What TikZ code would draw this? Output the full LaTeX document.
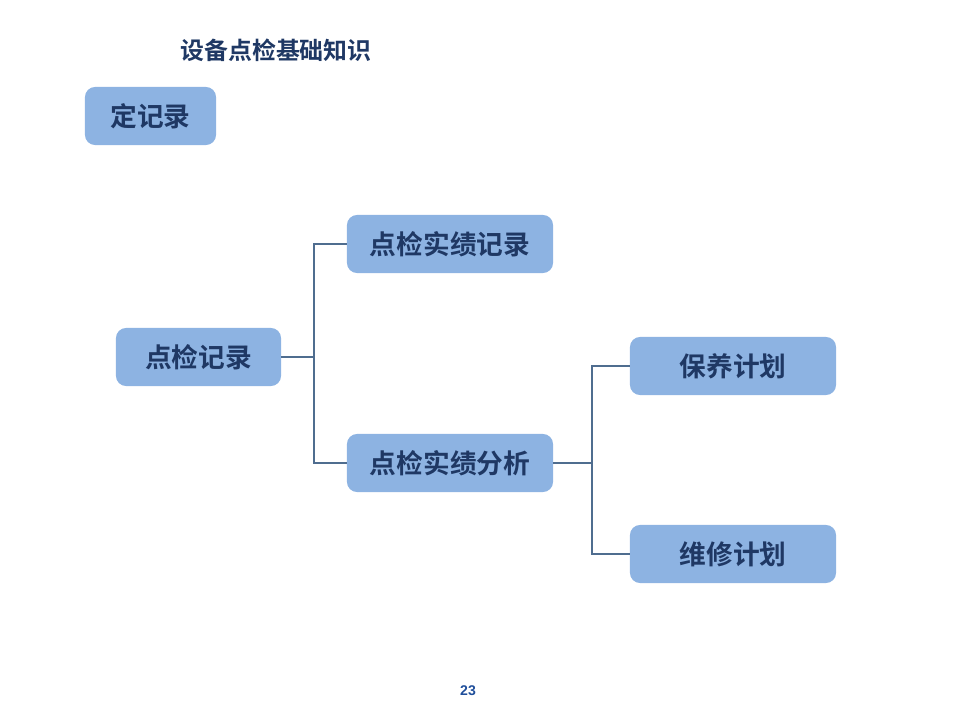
\documentclass[tikz,border=0pt]{standalone}
\usepackage{fontspec}
\setmainfont{Liberation Sans}
\newfontfamily\cjk{Noto Sans CJK SC}[BoldFont={Noto Sans CJK SC Bold}]
\definecolor{boxblue}{HTML}{8DB3E2}
\definecolor{navy}{HTML}{1F3864}
\definecolor{linkblue}{HTML}{4F6D8F}
\definecolor{numblue}{HTML}{1F4E9A}

\begin{document}
\begin{tikzpicture}[x=0.025cm,y=-0.025cm,
		box/.style={rounded corners=0.25cm,fill=boxblue,minimum height=1.45cm,inner sep=0pt,font=\cjk\bfseries\fontsize{19}{21}\selectfont,text=navy},
		link/.style={draw=linkblue,line width=1.4pt}]
		\useasboundingbox (0,0) rectangle (960,720);

		\node[font=\cjk\bfseries\fontsize{17}{19}\selectfont,text=navy] (title) at (276,50){设备点检基础知识};
		\node[box,minimum width=3.275cm] (ding) at (150.5,116){定记录};

		\node[box,minimum width=4.125cm] (jilu) at (198.5,357){点检记录};
		\node[box,minimum width=5.15cm] (shiji) at (450,244){点检实绩记录};
		\node[box,minimum width=5.15cm] (fenxi) at (450,463){点检实绩分析};
		\node[box,minimum width=5.15cm] (baoyang) at (733,366){保养计划};
		\node[box,minimum width=5.15cm] (weixiu) at (733,554){维修计划};

		\coordinate (j1) at (314,357);
		\coordinate (j2) at (592,463);
		\draw[link] (jilu.east) -- (j1);
		\draw[link] (j1) |- (shiji.west);
		\draw[link] (j1) |- (fenxi.west);
		\draw[link] (fenxi.east) -- (j2);
		\draw[link] (j2) |- (baoyang.west);
		\draw[link] (j2) |- (weixiu.west);

		\node[font=\bfseries\fontsize{10}{12}\selectfont,text=numblue] (page) at (468,691){23};
	\end{tikzpicture}
\end{document}
